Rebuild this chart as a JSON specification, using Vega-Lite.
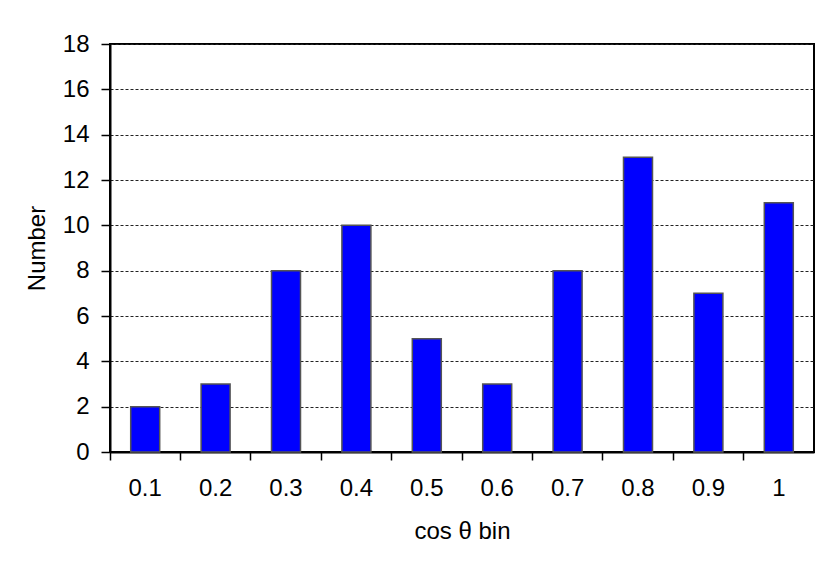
{
  "$schema": "https://vega.github.io/schema/vega-lite/v6.json",
  "autosize": "none",
  "width": 704,
  "height": 408,
  "padding": {"left": 110, "top": 44, "right": 16, "bottom": 119},
  "background": "white",
  "config": {
    "font": "Liberation Sans",
    "view": {"stroke": "black", "strokeWidth": 2},
    "axis": {
      "labelFont": "Liberation Sans",
      "titleFont": "Liberation Sans",
      "labelFontSize": 24,
      "titleFontSize": 24,
      "labelColor": "black",
      "titleColor": "black",
      "titleFontWeight": "normal",
      "domainColor": "black",
      "domainWidth": 2,
      "tickColor": "black",
      "tickWidth": 1.5
    }
  },
  "data": {
    "values": [
      {"bin": "0.1", "count": 2},
      {"bin": "0.2", "count": 3},
      {"bin": "0.3", "count": 8},
      {"bin": "0.4", "count": 10},
      {"bin": "0.5", "count": 5},
      {"bin": "0.6", "count": 3},
      {"bin": "0.7", "count": 8},
      {"bin": "0.8", "count": 13},
      {"bin": "0.9", "count": 7},
      {"bin": "1", "count": 11}
    ]
  },
  "mark": {"type": "bar", "size": 29, "fill": "#0000FF", "stroke": "#555555", "strokeWidth": 1.5},
  "encoding": {
    "x": {
      "field": "bin",
      "type": "nominal",
      "sort": null,
      "scale": {"paddingInner": 0, "paddingOuter": 0},
      "axis": {
        "title": "cos θ bin",
        "labelAngle": 0,
        "tickSize": 8,
        "labelPadding": 16,
        "bandPosition": 0,
        "grid": false,
        "titleX": 352,
        "titleY": 79,
        "titleBaseline": "middle",
        "titleAlign": "center"
      }
    },
    "y": {
      "field": "count",
      "type": "quantitative",
      "scale": {"domain": [0, 18], "nice": false},
      "axis": {
        "title": "Number",
        "values": [0, 2, 4, 6, 8, 10, 12, 14, 16, 18],
        "tickSize": 9,
        "labelPadding": 12,
        "grid": true,
        "gridColor": "#222222",
        "gridDash": [3, 2],
        "gridWidth": 1,
        "titleX": -73,
        "titleY": 204,
        "titleAngle": -90,
        "titleAlign": "center",
        "titleBaseline": "middle"
      }
    }
  }
}
